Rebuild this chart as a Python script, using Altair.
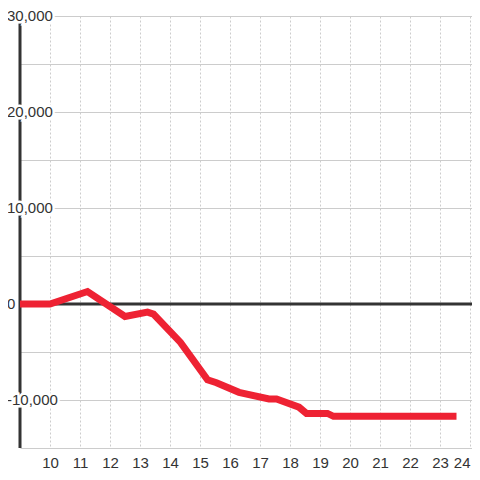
import altair as alt
import pandas as pd

# Data
hours = [9, 10, 11.25, 12.5, 13.25, 13.45, 14.35, 15.25, 15.55, 16.3, 17.3, 17.55, 18.3, 18.55, 19.25, 19.45, 23.55]
values = [0, 0, 1300, -1300, -850, -1050, -4000, -7900, -8200, -9200, -9900, -9900, -10750, -11400, -11400, -11700, -11700]
x_ticks = list(range(10, 25))
y_grid = [-15000, -10000, -5000, 0, 5000, 10000, 15000, 20000, 25000, 30000]
y_labels = [30000, 20000, 10000, 0, -10000]

PLOT_W = 452
X_DOMAIN = [9, 9 + PLOT_W / 30]
Y_DOMAIN = [-15000, 30000]
FONT = "Liberation Sans"
DARK = "#333333"

line_df = pd.DataFrame({"x": hours, "y": values})
label_df = pd.DataFrame({"ly": y_labels, "lx": [X_DOMAIN[0]] * len(y_labels)})
label_df["t"] = [f"{v:,}" for v in y_labels]
one = pd.DataFrame({"d": [0]})

xs = alt.Scale(domain=X_DOMAIN, nice=False, zero=False)
ys = alt.Scale(domain=Y_DOMAIN, nice=False, zero=False)

x_axis = alt.Axis(values=x_ticks, title=None, domain=False, ticks=False, tickSize=0,
                  labelFontSize=15, labelColor=DARK, labelFont=FONT, labelPadding=19,
                  labelBaseline="alphabetic", labelOverlap=False, labelFlush=4,
                  grid=True, gridColor="#cccccc", gridDash=[2, 2], gridWidth=1)
y_axis = alt.Axis(values=y_grid, title=None, domain=False, ticks=False, labels=False,
                  grid=True, gridColor="#cccccc", gridWidth=1)

X = alt.X("x:Q", scale=xs, axis=x_axis)
Y = alt.Y("y:Q", scale=ys, axis=y_axis)
LX = alt.X("lx:Q", scale=xs, axis=x_axis)
LY = alt.Y("ly:Q", scale=ys, axis=y_axis)

base_grid = alt.Chart(line_df).mark_line(opacity=0).encode(x=X, y=Y)

left_axis = alt.Chart(one).mark_rule(color=DARK, strokeWidth=3).encode(
    x=alt.datum(X_DOMAIN[0], scale=xs, axis=x_axis),
    y=alt.datum(Y_DOMAIN[0], scale=ys, axis=y_axis),
    y2=alt.datum(Y_DOMAIN[1]),
)

zero_line = alt.Chart(one).mark_rule(color=DARK, strokeWidth=3).encode(
    y=alt.datum(0, scale=ys, axis=y_axis),
    x=alt.datum(X_DOMAIN[0], scale=xs, axis=x_axis),
    x2=alt.datum(X_DOMAIN[1]),
)

halo = alt.Chart(label_df).mark_text(
    align="left", baseline="middle", dx=-13, font=FONT, fontSize=15,
    fill="white", stroke="white", strokeWidth=5,
).encode(x=LX, y=LY, text="t:N")

labels = alt.Chart(label_df).mark_text(
    align="left", baseline="middle", dx=-13, font=FONT, fontSize=15, fill=DARK,
).encode(x=LX, y=LY, text="t:N")

line = alt.Chart(line_df).mark_line(color="#ee2233", strokeWidth=7, strokeJoin="miter").encode(
    x=X, y=Y
)

chart = alt.layer(base_grid, left_axis, zero_line, halo, labels, line).properties(
    width=PLOT_W, height=432,
    autosize=alt.AutoSizeParams(type="none"),
    padding={"left": 12, "top": 8, "right": 0, "bottom": 24},
    background="white",
).configure_view(stroke=None)

chart.save("out.html", embed_options={"renderer": "svg", "actions": False})
